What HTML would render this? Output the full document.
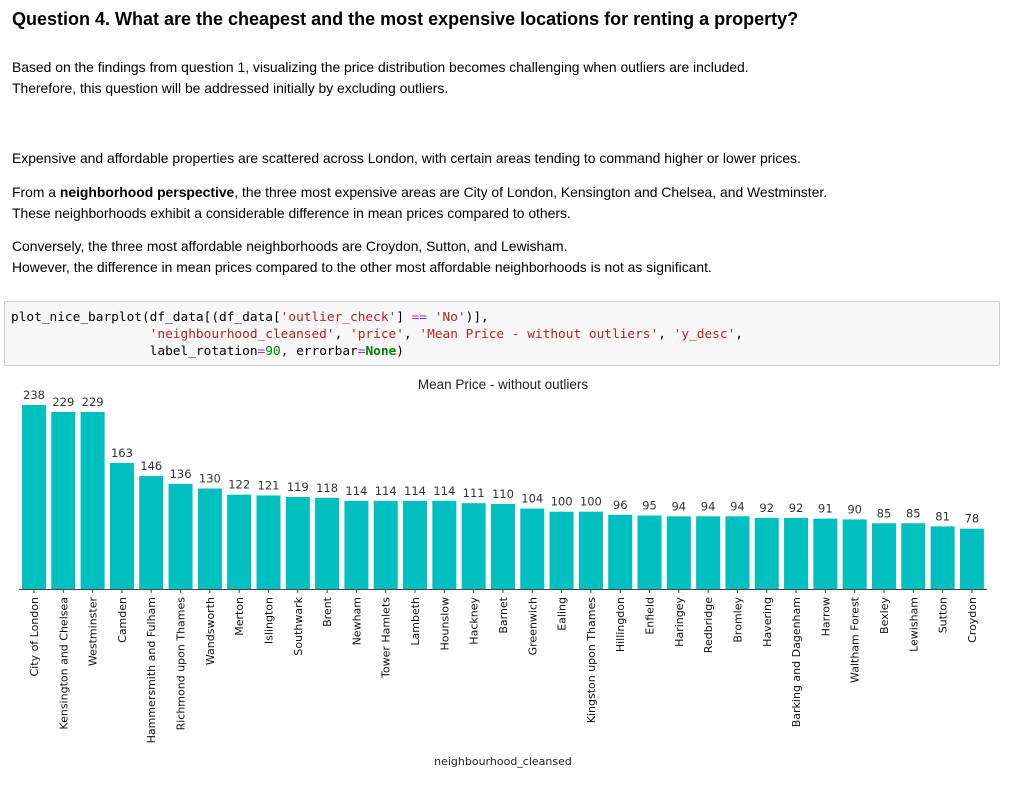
<!DOCTYPE html>
<html><head><meta charset="utf-8"><style>
body{margin:0;width:1011px;height:786px;background:#fff;position:relative;overflow:hidden;font-family:"Liberation Sans",Arial,sans-serif;color:#000}
.t{position:absolute;left:12px;white-space:nowrap;font-size:13.9px;line-height:20.5px}
h1{position:absolute;left:12px;top:9px;margin:0;font-size:18px;font-weight:bold;white-space:nowrap}
.code{position:absolute;left:4px;top:301px;width:994px;height:63px;background:#f7f7f7;border:1px solid #cfcfcf;border-radius:2px;font-family:"DejaVu Sans Mono","Liberation Mono",monospace;font-size:12.8px;line-height:17px}
.code pre{margin:0;padding:7px 0 0 6px;font-family:inherit}
.s{color:#ba2121}.n{color:#080}.o{color:#a2f}.k{color:#008000;font-weight:bold}
svg{position:absolute;left:0;top:0}
</style></head><body>
<h1>Question 4. What are the cheapest and the most expensive locations for renting a property?</h1>
<div class="t" style="top:57px">Based on the findings from question 1, visualizing the price distribution becomes challenging when outliers are included.<br>Therefore, this question will be addressed initially by excluding outliers.</div>
<div class="t" style="top:148px">Expensive and affordable properties are scattered across London, with certain areas tending to command higher or lower prices.</div>
<div class="t" style="top:182px">From a <b>neighborhood perspective</b>, the three most expensive areas are City of London, Kensington and Chelsea, and Westminster.<br>These neighborhoods exhibit a considerable difference in mean prices compared to others.</div>
<div class="t" style="top:236px">Conversely, the three most affordable neighborhoods are Croydon, Sutton, and Lewisham.<br>However, the difference in mean prices compared to the other most affordable neighborhoods is not as significant.</div>
<div class="code"><pre>plot_nice_barplot(df_data[(df_data[<span class="s">'outlier_check'</span>] <span class="o">==</span> <span class="s">'No'</span>)],
                  <span class="s">'neighbourhood_cleansed'</span>, <span class="s">'price'</span>, <span class="s">'Mean Price - without outliers'</span>, <span class="s">'y_desc'</span>,
                  label_rotation<span class="o">=</span><span class="n">90</span>, errorbar<span class="o">=</span><span class="k">None</span>)</pre></div>
<svg id="chart" width="1011" height="786"></svg>
<script>
const categories=["City of London","Kensington and Chelsea","Westminster","Camden","Hammersmith and Fulham","Richmond upon Thames","Wandsworth","Merton","Islington","Southwark","Brent","Newham","Tower Hamlets","Lambeth","Hounslow","Hackney","Barnet","Greenwich","Ealing","Kingston upon Thames","Hillingdon","Enfield","Haringey","Redbridge","Bromley","Havering","Barking and Dagenham","Harrow","Waltham Forest","Bexley","Lewisham","Sutton","Croydon"];
const values=[238,229,229,163,146,136,130,122,121,119,118,114,114,114,114,111,110,104,100,100,96,95,94,94,94,92,92,91,90,85,85,81,78];
const NS="http://www.w3.org/2000/svg";
const svg=document.getElementById('chart');
const x0=34,step=29.31,bw=24,base=589,scale=184/238;
const xPos=i=>x0+i*step;
const yPos=v=>base-v*scale;
function mk(t,a){const e=document.createElementNS(NS,t);for(const k in a)e.setAttribute(k,a[k]);svg.appendChild(e);return e;}
const title=mk('text',{x:503,y:389,'text-anchor':'middle','font-size':'13.5','font-family':'"Liberation Sans",Arial,sans-serif',fill:'#222'});
title.textContent='Mean Price - without outliers';


categories.forEach((c,i)=>{
  const v=values[i],cx=xPos(i);
  const r=mk('rect',{x:cx-bw/2,y:yPos(v),width:bw,height:v*scale,fill:'#00bfbf'});
  
  
  const vl=mk('text',{x:cx,y:yPos(v)-6,'text-anchor':'middle','font-size':'11.5','font-family':'"DejaVu Sans",sans-serif',fill:'#333'});
  vl.textContent=v;
  
  
  mk('line',{x1:cx,y1:base,x2:cx,y2:base+4,stroke:'#444','stroke-width':1});
  const tl=mk('text',{x:0,y:0,'text-anchor':'end','font-size':'11','font-family':'"DejaVu Sans",sans-serif',fill:'#111',transform:`translate(${cx+4},${base+8}) rotate(-90)`});
  tl.textContent=c;
  
  
});
const ax=mk('line',{x1:19,y1:base+0.5,x2:987,y2:base+0.5,stroke:'#444','stroke-width':1});


const xl=mk('text',{x:503,y:765,'text-anchor':'middle','font-size':'11','font-family':'"DejaVu Sans",sans-serif',fill:'#222'});
xl.textContent='neighbourhood_cleansed';


</script>
</body></html>
